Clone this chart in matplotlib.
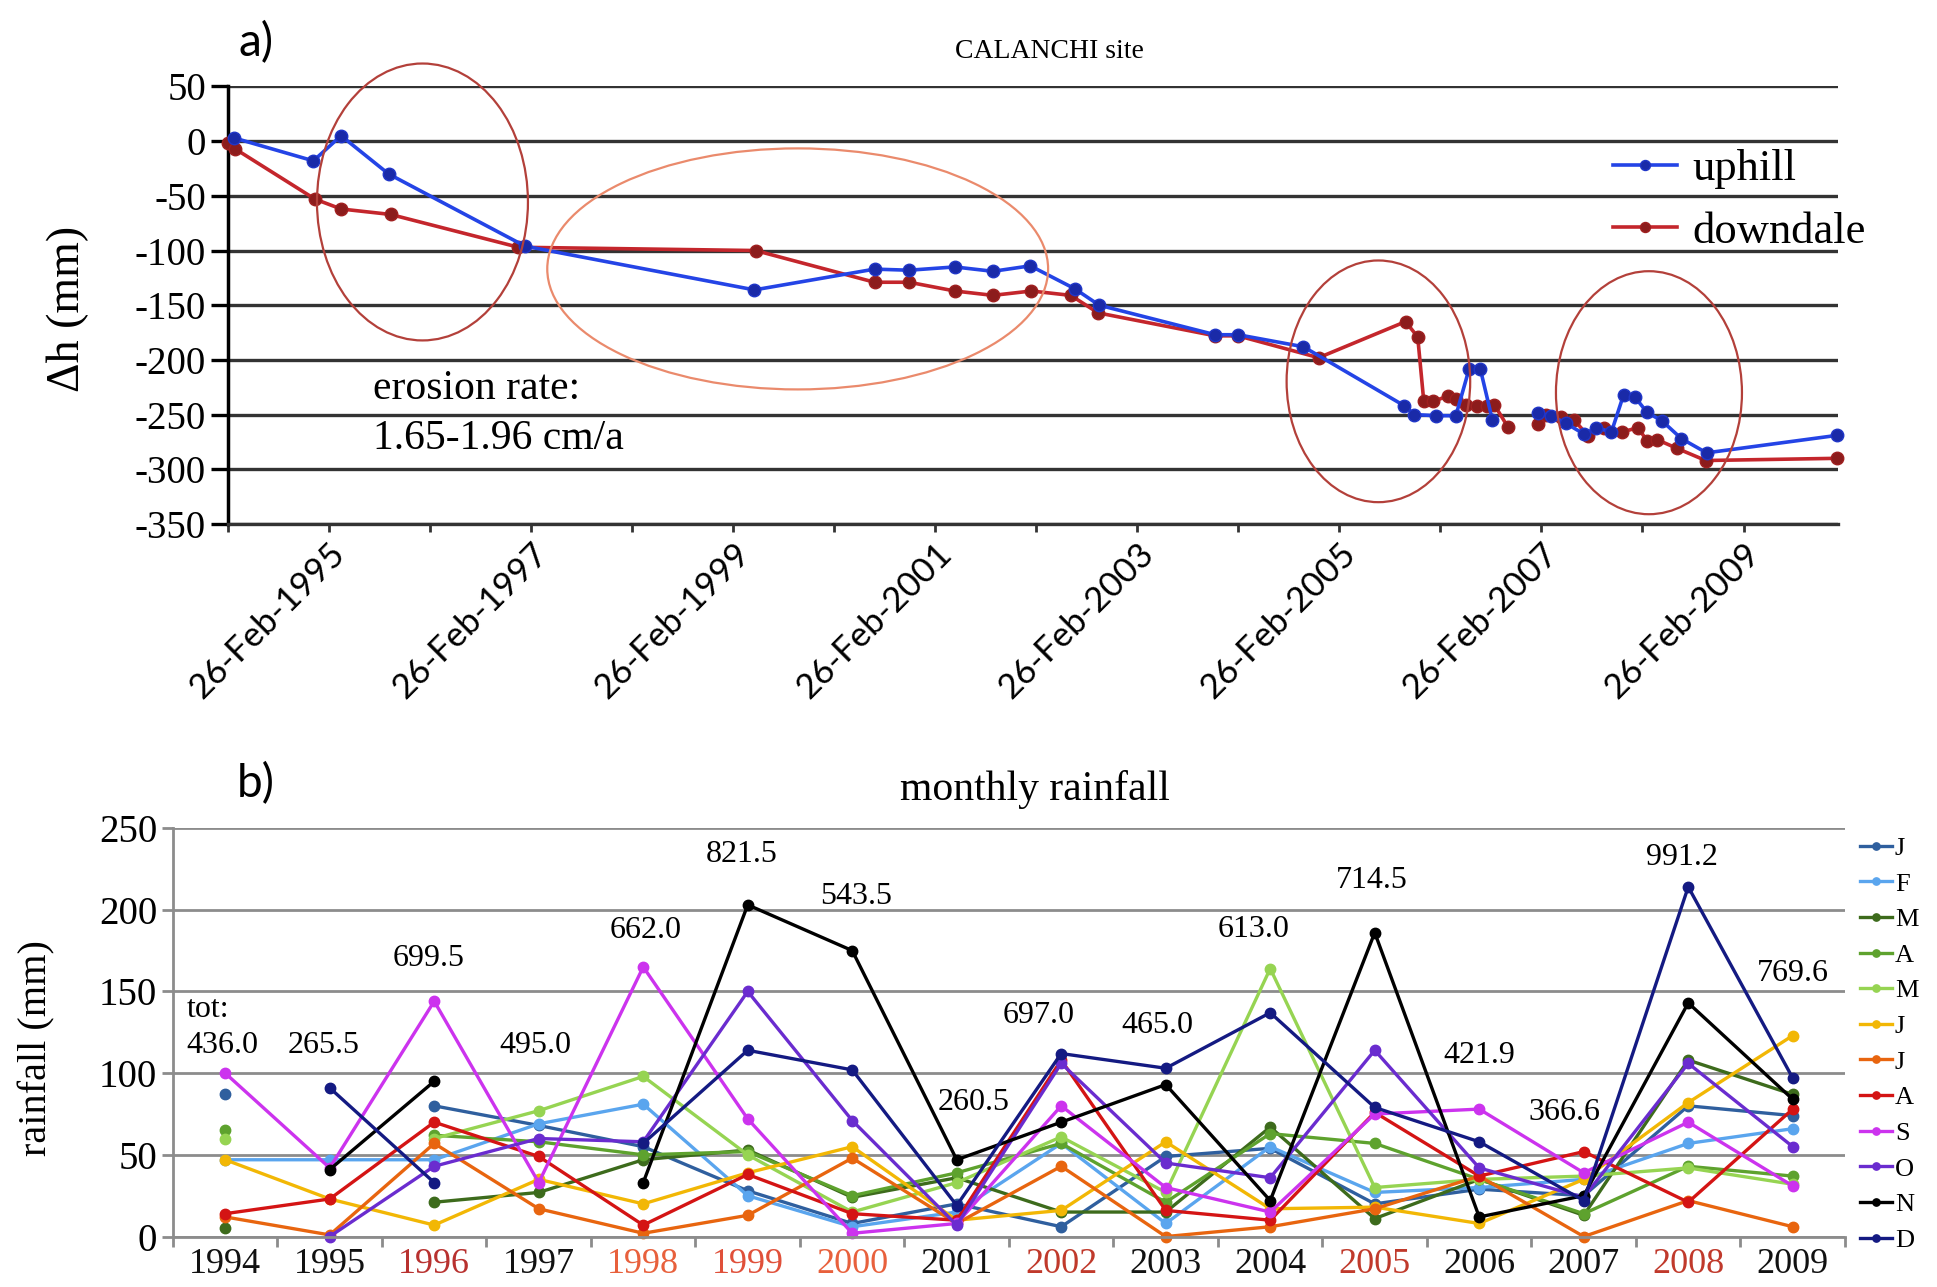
"""CALANCHI site: a) erosion pins (uphill / downdale) and b) monthly rainfall 1994-2009."""

import matplotlib

matplotlib.use("Agg")
import matplotlib.dates as mdates
import matplotlib.pyplot as plt
import numpy as np
from matplotlib.patches import Ellipse
from matplotlib.ticker import FixedLocator

nan = np.nan

# --- a) surface change (mm) ---
uphill_dates = [
    "1994-03-21", "1995-01-02", "1995-04-12", "1995-10-01", "1997-02-05", "1999-05-15",
    "2000-07-22", "2000-11-24", "2001-05-08", "2001-09-23", "2002-02-05", "2002-07-16",
    "2002-10-12", "2003-12-05", "2004-02-26", "2004-10-19", "2005-10-19", "2005-11-24",
    "2006-02-09", "2006-04-23", "2006-06-10", "2006-07-20", "2006-09-02", "2006-11-15",
    "2007-02-13", "2007-04-01", "2007-05-26", "2007-07-31", "2007-09-13", "2007-11-06",
    "2007-12-20", "2008-01-30", "2008-03-14", "2008-05-08", "2008-07-16", "2008-10-15",
    "2010-01-30",
]
uphill_mm = [
    3, -18, 5, -30, -96, -136,
    -117, -118, -115, -119, -114, -135,
    -150, -177, -177, -188, -242, -250,
    -251, -251, -208, -208, -255, nan,
    -249, -251, -258, -268, -262, -266,
    -232, -234, -248, -256, -272, -285,
    -269,
]
downdale_dates = [
    "1994-02-26", "1994-03-25", "1995-01-08", "1995-04-12", "1995-10-08", "1997-01-12",
    "1999-05-19", "2000-07-22", "2000-11-24", "2001-05-08", "2001-09-23", "2002-02-09",
    "2002-07-01", "2002-10-08", "2003-12-05", "2004-02-26", "2004-12-13", "2005-10-23",
    "2005-12-06", "2005-12-28", "2006-01-30", "2006-03-26", "2006-04-23", "2006-05-30",
    "2006-07-09", "2006-08-14", "2006-09-09", "2006-10-27", "2006-12-20", "2007-02-13",
    "2007-03-15", "2007-05-08", "2007-06-25", "2007-08-15", "2007-10-12", "2007-12-13",
    "2008-02-10", "2008-03-14", "2008-04-20", "2008-07-01", "2008-10-12", "2010-01-30",
]
downdale_mm = [
    -2, -7, -53, -62, -67, -97,
    -100, -129, -129, -137, -141, -137,
    -141, -157, -178, -178, -198, -165,
    -179, -238, -238, -233, -236, -241,
    -242, -242, -241, -261, nan, -259,
    -250, -252, -255, -270, -262, -266,
    -262, -274, -273, -281, -292, -290,
]
label_years = [1995, 1997, 1999, 2001, 2003, 2005, 2007, 2009]

# --- b) monthly rainfall (mm) per year ---
years = list(range(1994, 2010))
month_names = ["J", "F", "M", "A", "M", "J", "J", "A", "S", "O", "N", "D"]
jan = [87, nan, 80, 68, 55, 28, 8, 20, 6, 49, 54, 20, 29, 25, 80, 74]
feb = [47, 47, 47, 69, 81, 25, 6, 15, 57, 8, 55, 27, 30, 35, 57, 66]
mar = [5, nan, 21, 27, 47, 53, 24, 36, 15, 15, 67, 11, 35, 13, 108, 87]
apr = [65, nan, 62, 58, 50, 52, 25, 39, 57, 21, 63, 57, 35, 14, 43, 37]
may = [60, nan, 60, 77, 98, 50, 15, 33, 61, 27, 164, 30, 35, 37, 42, 32]
jun = [47, 23, 7, 35, 20, 39, 55, 10, 16, 58, 17, 18, 8, 35, 82, 123]
jul = [12, 1, 57, 17, 2, 13, 48, 8, 43, 0, 6, 17, 37, 0, 22, 6]
aug = [14, 23, 70, 49, 7, 38, 14, 10, 108, 16, 10, 76, 37, 52, 21, 78]
sep = [100, 42, 144, 33, 165, 72, 2, 8, 80, 30, 15, 75, 78, 39, 70, 31]
octo = [nan, 0, 43, 60, 58, 150, 71, 7, 106, 45, 36, 114, 42, 24, 106, 55]
nov = [nan, 41, 95, nan, 33, 203, 175, 47, 70, 93, 22, 186, 12, 25, 143, 84]
dec = [nan, 91, 33, nan, 57, 114, 102, 19, 112, 103, 137, 79, 58, 22, 214, 97]
totals = ["436.0", "265.5", "699.5", "495.0", "662.0", "821.5", "543.5", "260.5",
          "697.0", "465.0", "613.0", "714.5", "421.9", "366.6", "991.2", "769.6"]

# label placement (layout only)
tot_y = [117, 117, 170, 117, 187, 234, 208, 82, 135, 129, 188, 218, 111, 76, 232, 161]
tot_dx = [-0.03, -0.06, -0.05, -0.03, 0.02, -0.06, 0.04, 0.16, -0.22, -0.08, -0.16,
          -0.03, 0.0, -0.18, -0.06, 0.0]
month_colors = ["#2f5f9e", "#5aa5ee", "#3d6b1c", "#5ea22e", "#96d452", "#f2b705",
                "#e8650f", "#d41414", "#cc33ee", "#6a2ccf", "#000000", "#141a82"]
year_colors = {1996: "#b8312f", 1998: "#e8603c", 1999: "#e0503a", 2000: "#e8603c",
               2002: "#c0392b", 2005: "#c0392b", 2008: "#c0392b"}

SERIF = ["Liberation Serif", "DejaVu Serif"]
SANS = ["Lato", "DejaVu Sans"]
plt.rcParams["font.family"] = SERIF
plt.rcParams["axes.unicode_minus"] = False


def main():
    fig = plt.figure(figsize=(19.37, 12.87), dpi=100)

    # ---------------- a) ----------------
    ax = fig.add_axes([0.1175, 0.5929, 0.8314, 0.3399])
    ud = mdates.datestr2num(uphill_dates)
    dd = mdates.datestr2num(downdale_dates)
    ax.plot(ud, uphill_mm, "-o", color="#2444e6", lw=2.6, ms=9,
            mfc="#1a2aa8", mec="#2036c8", label="uphill", clip_on=False, zorder=4)
    ax.plot(dd, downdale_mm, "-o", color="#c4262c", lw=2.6, ms=9,
            mfc="#8c1c1c", mec="#a02020", label="downdale", clip_on=False, zorder=3)

    ax.set_xlim(mdates.datestr2num("1994-02-26"), mdates.datestr2num("2010-02-02"))
    ax.set_ylim(-350, 50)
    ax.set_yticks(range(-350, 51, 50))
    ax.yaxis.grid(True, color="#333333", lw=2.4)
    ax.set_axisbelow(True)
    for s in ("top", "right"):
        ax.spines[s].set_visible(False)
    ax.spines["left"].set_linewidth(2.5)
    ax.spines["bottom"].set_linewidth(2.4)
    ax.spines["bottom"].set_color("#333333")

    major = [mdates.datestr2num(f"{y}-02-26") for y in label_years]
    minor = [mdates.datestr2num(f"{y}-02-26") for y in range(1994, 2011)]
    ax.xaxis.set_major_locator(FixedLocator(major))
    ax.xaxis.set_minor_locator(FixedLocator(minor))
    ax.xaxis.set_major_formatter(mdates.DateFormatter("%d-%b-%Y"))
    ax.tick_params(axis="x", which="both", direction="out", length=6, width=2, color="#333333")
    ax.tick_params(axis="y", direction="out", length=12, width=2.4, labelsize=28)
    for lab in ax.get_xticklabels():
        lab.set_rotation(45)
        lab.set_ha("right")
        lab.set_rotation_mode("anchor")
        lab.set_fontfamily(SANS)
        lab.set_fontsize(25)

    # highlighted periods
    ell = [(0.121, 0.736, 0.131, 0.633, "#b3403a"),
           (0.354, 0.583, 0.311, 0.551, "#ea8a6c"),
           (0.7146, 0.326, 0.114, 0.5525, "#b3403a"),
           (0.8826, 0.300, 0.1155, 0.5555, "#b3403a")]
    for cx, cy, w, h, c in ell:
        ax.add_patch(Ellipse((cx, cy), w, h, transform=ax.transAxes, fill=False,
                             ec=c, lw=1.6, clip_on=False, zorder=5))

    ax.text(0.0903, 0.309, "erosion rate:", transform=ax.transAxes, fontsize=30, va="center")
    ax.text(0.0903, 0.1954, "1.65-1.96 cm/a", transform=ax.transAxes, fontsize=30, va="center")
    ax.legend(loc="upper left", bbox_to_anchor=(0.8325, 0.884),
              bbox_transform=fig.transFigure, frameon=False, fontsize=32,
              handlelength=1.45, handletextpad=0.35, labelspacing=0.5,
              borderpad=0, borderaxespad=0, markerscale=0.8)

    fig.text(0.542, 0.9596, "CALANCHI site", ha="center", va="center", fontsize=20)
    fig.text(0.132, 0.9666, "a)", ha="center", va="center", fontsize=33, family=SANS)
    fig.text(0.035, 0.76, "Δh (mm)", rotation=90, ha="center", va="center", fontsize=33)

    # ---------------- b) ----------------
    bx = fig.add_axes([0.0893, 0.0392, 0.8632, 0.3174])
    x = np.arange(len(years))
    series = [jan, feb, mar, apr, may, jun, jul, aug, sep, octo, nov, dec]
    for vals, name, c in zip(series, month_names, month_colors):
        bx.plot(x, vals, "-o", color=c, lw=2.4, ms=7.5, label=name, clip_on=False)

    bx.set_xlim(-0.5, len(years) - 0.5)
    bx.set_ylim(0, 250)
    bx.set_yticks(range(0, 251, 50))
    bx.yaxis.grid(True, color="#8c8c8c", lw=2)
    bx.set_axisbelow(True)
    for s in ("top", "right"):
        bx.spines[s].set_visible(False)
    for s in ("left", "bottom"):
        bx.spines[s].set_color("#8c8c8c")
        bx.spines[s].set_linewidth(2)
    bx.set_xticks(x, [str(y) for y in years])
    bx.set_xticks(np.arange(-0.5, len(years)), minor=True)
    bx.tick_params(axis="x", which="major", length=0, labelsize=26, pad=8)
    bx.tick_params(axis="x", which="minor", length=7, width=2, color="#8c8c8c")
    bx.tick_params(axis="y", length=8, width=2, color="#8c8c8c", labelsize=28)
    for lab, y in zip(bx.get_xticklabels(), years):
        lab.set_color(year_colors.get(y, "#111111"))

    for i, t in enumerate(totals):
        bx.text(x[i] + tot_dx[i], tot_y[i], t, ha="center", va="center", fontsize=23)
    bx.text(-0.37, 139, "tot:", ha="left", va="center", fontsize=23)

    bx.legend(loc="upper left", bbox_to_anchor=(0.9605, 0.35),
              bbox_transform=fig.transFigure, frameon=False, fontsize=19,
              handlelength=1.2, handletextpad=0.1, labelspacing=0.46,
              borderpad=0, borderaxespad=0, markerscale=0.7)

    fig.text(0.5343, 0.3862, "monthly rainfall", ha="center", va="center", fontsize=30)
    fig.text(0.132, 0.3908, "b)", ha="center", va="center", fontsize=33, family=SANS)
    fig.text(0.019, 0.186, "rainfall (mm)", rotation=90, ha="center", va="center", fontsize=29)

    fig.savefig("out.png", dpi=100, facecolor="white")


if __name__ == "__main__":
    main()
